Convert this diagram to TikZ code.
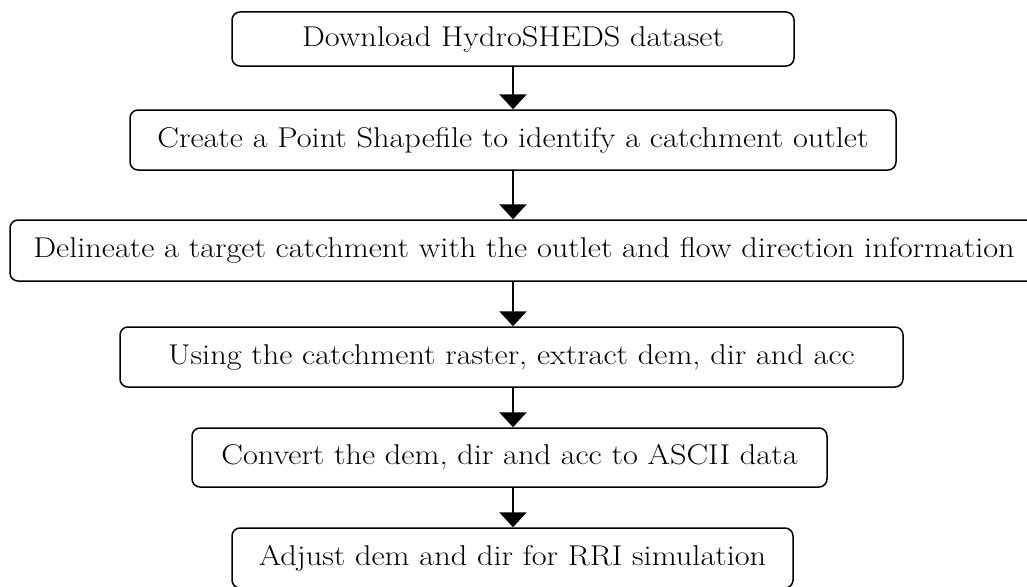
\documentclass[tikz,border=0pt]{standalone}
\usepackage{graphicx}
\usetikzlibrary{arrows.meta}
\newcommand{\wtxt}[1]{\scalebox{1.13}[1]{#1}}
\begin{document}
\begin{tikzpicture}[x=1pt,y=-1pt,
  stepbox/.style={draw=black,line width=1.5pt,rounded corners=8pt,inner sep=0pt,
    font=\fontsize{28.6}{34}\selectfont},
  arr/.style={line width=2.8pt,-{Triangle[width=27pt,length=15pt]}}]
\useasboundingbox (0,0) rectangle (1027,586);
\begin{scope}
\clip (0,0) rectangle (1027,586);
\node[stepbox,minimum width=562pt,minimum height=54pt] (b1) at (513,39) {\wtxt{Download HydroSHEDS dataset}};
\node[stepbox,minimum width=766pt,minimum height=60pt] (b2) at (513,140) {\wtxt{Create a Point Shapefile to identify a catchment outlet}};
\node[stepbox,minimum width=1028pt,minimum height=61pt] (b3) at (524,250.5) {\wtxt{Delineate a target catchment with the outlet and flow direction information}};
\node[stepbox,minimum width=783pt,minimum height=60pt] (b4) at (511.5,357) {\wtxt{Using the catchment raster, extract dem, dir and acc}};
\node[stepbox,minimum width=635pt,minimum height=59pt] (b5) at (509.5,457.5) {\wtxt{Convert the dem, dir and acc to ASCII data}};
\node[stepbox,minimum width=561pt,minimum height=60pt] (b6) at (512.5,558) {\wtxt{Adjust dem and dir for RRI simulation}};
\coordinate (col) at (513,0);
\draw[arr] (b1.south -| col) -- (b2.north -| col);
\draw[arr] (b2.south -| col) -- (b3.north -| col);
\draw[arr] (b3.south -| col) -- (b4.north -| col);
\draw[arr] (b4.south -| col) -- (b5.north -| col);
\draw[arr] (b5.south -| col) -- (b6.north -| col);
\end{scope}
\end{tikzpicture}
\end{document}
